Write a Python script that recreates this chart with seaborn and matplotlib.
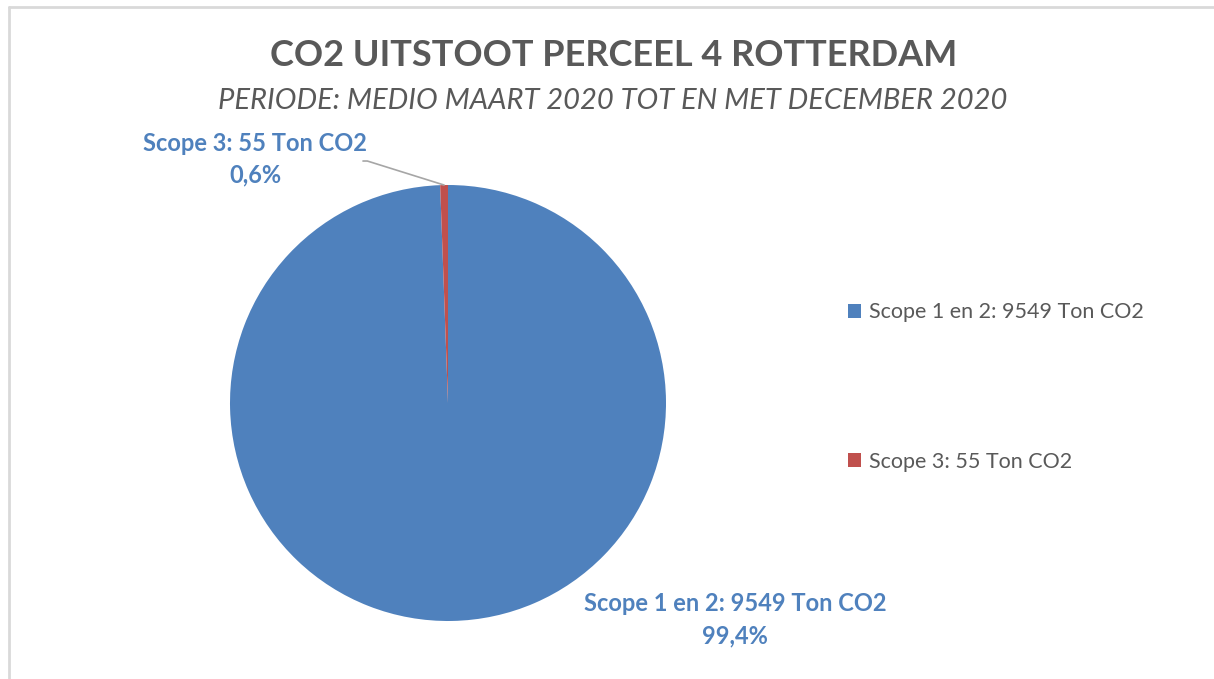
import numpy as np
import seaborn as sns
import matplotlib.pyplot as plt
from matplotlib.lines import Line2D
from matplotlib.patches import Patch

categorieen = ["Scope 1 en 2: 9549 Ton CO2", "Scope 3: 55 Ton CO2"]
uitstoot = [9549, 55]
percentages = ["99,4%", "0,6%"]
kleuren = ["#4F81BD", "#C0504D"]

sns.set_theme(style="white")
plt.rcParams["font.family"] = ["Lato", "DejaVu Sans"]

W, H = 1214, 679
fig = plt.figure(figsize=(W / 100, H / 100), dpi=100)

# grijze rand (alleen links en boven zichtbaar)
fig.add_artist(Line2D([9 / W, 9 / W], [0, 1 - 7 / H], color="#D9D9D9", lw=2, transform=fig.transFigure))
fig.add_artist(Line2D([9 / W, 1], [1 - 7 / H, 1 - 7 / H], color="#D9D9D9", lw=2, transform=fig.transFigure))

fig.text(614 / W, 1 - 55 / H, "CO2 UITSTOOT PERCEEL 4 ROTTERDAM", ha="center", va="center",
         fontsize=26, fontweight="bold", color="#595959")
fig.text(613 / W, 1 - 101 / H, "PERIODE: MEDIO MAART 2020 TOT EN MET DECEMBER 2020", ha="center", va="center",
         fontsize=21, fontstyle="italic", color="#595959")

ax = fig.add_axes([230 / W, 58 / H, 436 / W, 436 / H])
wedges, _ = ax.pie(uitstoot, colors=kleuren, startangle=90, counterclock=False, radius=1,
                   wedgeprops=dict(linewidth=0))
ax.set_xlim(-1, 1)
ax.set_ylim(-1, 1)
ax.set_aspect("equal")

label_stijl = dict(ha="center", va="center", fontsize=17, fontweight="bold", color="#4F81BD")
ax.text(1.317, -0.922, categorieen[0], **label_stijl)
ax.text(1.317, -1.07, percentages[0], **label_stijl)
ax.text(-0.885, 1.19, categorieen[1], **label_stijl)
ax.text(-0.885, 1.045, percentages[1], **label_stijl)

# leader line naar het kleine segment
w = wedges[1]
hoek = np.deg2rad((w.theta1 + w.theta2) / 2)
ax.plot([-0.39, -0.37, np.cos(hoek)], [1.11, 1.11, np.sin(hoek)], color="#A6A6A6", lw=1.2, clip_on=False)

handles = [Patch(facecolor=c, edgecolor="none") for c in kleuren]
fig.legend(handles, categorieen, loc="center left", bbox_to_anchor=(829 / W, 1 - 387 / H),
           frameon=False, fontsize=15.5, labelcolor="#595959", labelspacing=6.0,
           handlelength=0.6, handleheight=0.6, handletextpad=0.35)

fig.savefig("out.png", dpi=100)
